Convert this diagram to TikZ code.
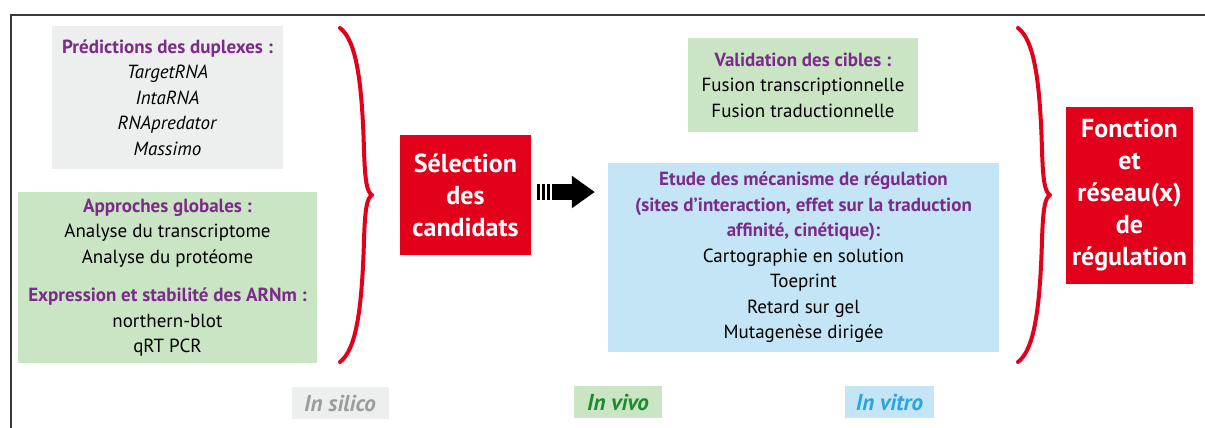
\documentclass[tikz,border=0pt]{standalone}
\usepackage{fontspec}
\setmainfont{PT Sans}
\usetikzlibrary{positioning,arrows.meta}
\definecolor{accentred}{HTML}{E2001A}
\definecolor{headpurple}{HTML}{7D2B8B}
\definecolor{boxgray}{HTML}{EDEEEE}
\definecolor{boxgreen}{HTML}{C9E5C3}
\definecolor{boxblue}{HTML}{C3E5F5}
\definecolor{silicogray}{HTML}{9C9C9C}
\definecolor{vivogreen}{HTML}{1F8A2E}
\definecolor{vitroblue}{HTML}{2BA4DD}
\definecolor{framegray}{HTML}{3A3A3A}
\newcommand{\hd}[1]{{\bfseries\color{headpurple}#1}}

\begin{document}
\begin{tikzpicture}[x=1pt, y=-1pt,
  panel/.style={rectangle, fill=#1, inner sep=0pt, align=center,
    font=\fontsize{19}{25.5}\selectfont},
  redblock/.style={rectangle, fill=accentred, inner sep=0pt, align=center,
    text=white, font=\fontsize{26}{32}\selectfont\bfseries},
  tag/.style={rectangle, fill=#1, inner sep=0pt, minimum height=32pt,
    font=\fontsize{23}{26}\selectfont\bfseries\itshape},
  redbrace/.style={draw=accentred, line width=4pt, line cap=round, line join=round},
  bigarrow/.style={-{Triangle[length=23pt,width=31pt]}, line width=16pt,
    dash pattern=on 3pt off 2pt on 3pt off 2pt on 3pt off 2pt on 300pt}
]
\useasboundingbox (0,0) rectangle (1205,428);

% Frame
\draw[framegray, line width=2pt] (1205,15) -- (11,15) -- (11,428);

% In silico / in vivo panels
\node[panel=boxgray, minimum width=231pt, minimum height=142pt] (predict) at (167.5,97.5)
  {\hd{Prédictions des duplexes :}\\ \textit{TargetRNA}\\ \textit{IntaRNA}\\
   \textit{RNApredator}\\ \textit{Massimo}};
\node[panel=boxgreen, minimum width=299pt, minimum height=171pt] (global) at (167.5,277.5)
  {\hd{Approches globales :}\\ Analyse du transcriptome\\ Analyse du protéome\\[13pt]
   \hd{Expression et stabilité des ARNm :}\\ northern-blot\\ qRT PCR};

% Selection
\node[redblock, minimum width=131pt, minimum height=120pt] (select) at (465.5,195)
  {Sélection\\des\\candidats};

% Validation / mechanism panels
\node[panel=boxgreen, minimum width=230pt, minimum height=94pt] (valid) at (803,85)
  {\hd{Validation des cibles :}\\ Fusion transcriptionnelle\\ Fusion traductionnelle};
\node[panel=boxblue, minimum width=391pt, minimum height=189pt] (etude) at (803.5,257.5)
  {\hd{Etude des mécanisme de régulation}\\ \hd{(sites d’interaction, effet sur la traduction}\\
   \hd{affinité, cinétique):}\\ Cartographie en solution\\ Toeprint\\ Retard sur gel\\
   Mutagenèse dirigée};

% Function
\node[redblock, minimum width=127pt, minimum height=177pt] (fonction) at (1129.5,195.5)
  {Fonction\\et\\réseau(x)\\de\\régulation};

% Bottom tags
\node[tag=boxgray, text=silicogray, minimum width=97pt] (silico) at (340,403) {In silico};
\node[tag=boxgreen, text=vivogreen, minimum width=88pt] (vivo) at (618,402) {In vivo};
\node[tag=boxblue, text=vitroblue, minimum width=89pt] (vitro) at (889.5,402) {In vitro};

% Braces
\foreach \bx in {0,678}
  \draw[redbrace, xshift=\bx] (340,28) .. controls (356,40) and (362,80) .. (364,150)
    .. controls (365,182) and (367,192) .. (372,195)
    .. controls (367,198) and (365,208) .. (364,240)
    .. controls (362,310) and (356,350) .. (340,362);

% Arrow
\draw[bigarrow, shorten <=6pt, shorten >=13pt] ([yshift=3pt]select.east) -- ([yshift=3pt]select.east -| etude.west);

\end{tikzpicture}
\end{document}
